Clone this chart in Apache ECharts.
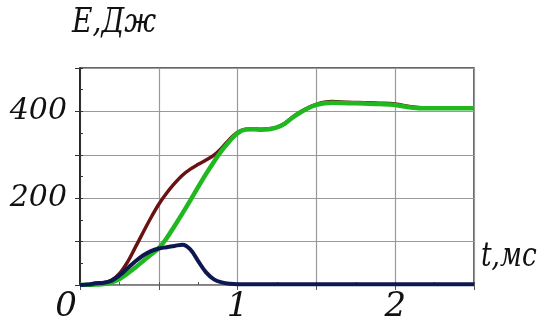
<!DOCTYPE html>
<html>
<head>
<meta charset="utf-8">
<script src="https://cdn.jsdelivr.net/npm/echarts@6/dist/echarts.min.js"></script>
<style>html,body{margin:0;padding:0;background:#fff}#c{width:543px;height:323px}</style>
</head>
<body>
<div id="c"></div>
<script>
const tValues = [0,0.05,0.1,0.15,0.2,0.25,0.3,0.35,0.4,0.45,0.5,0.55,0.6,0.65,0.7,0.75,0.8,0.85,0.9,0.95,1.0,1.05,1.1,1.15,1.2,1.25,1.3,1.35,1.4,1.45,1.5,1.55,1.6,1.7,1.8,1.9,2.0,2.1,2.2,2.3,2.4,2.5];
const totalEnergy = [0,1,4,5,11,26,52,86,121,155,186,212,234,253,267,278,288,299,316,336,352,359,360,359,360,364,373,387,399,409,416,421,423,421,420,419,417,411,408,407,407,407];
const greenEnergy = [0,0,1,2,6,14,26,40,55,70,85,108,136,165,195,226,256,284,310,332,350,358,359,358,359,363,372,386,398,408,415,419,420,419,418,417,415,409,407,407,407,407];
const blueEnergy = [0,1,4,5,10,22,38,54,68,78,84,87,90,93,82,55,29,13,6,3,2,2,2,2,2,2,2,2,2,2,2,2,2,2,2,2,2,2,2,2,2,2];
const xTickLabels = ['0','1','2'];
const yTickLabels = ['200','400'];
const yAxisTitle = 'E,Дж';
const xAxisTitle = 't,мс';

const pairs = arr => tValues.map((t,i)=>[t,arr[i]]);
const serif = 'DejaVu Serif';

const chart = echarts.init(document.getElementById('c'), null, {renderer:'canvas'});
chart.setOption({
  animation:false,
  backgroundColor:'#fff',
  grid:{left:80, right:69, top:68, bottom:38, outerBoundsMode:'none', containLabel:false, show:true, borderColor:'#333', borderWidth:1.5, backgroundColor:'transparent'},
  xAxis:[{
    type:'value', min:0, max:2.5, interval:0.5,
    axisLine:{show:true, onZero:false, lineStyle:{color:'#888', width:1.5}},
    axisTick:{show:true, inside:false, length:5, lineStyle:{color:'#555'}},
    splitLine:{show:true, lineStyle:{color:'#999', width:1.2}},
    axisLabel:{
      margin:5, fontFamily:serif, fontStyle:'italic', fontSize:34, color:'#111',
      formatter:v=>{const s=String(v); return xTickLabels.includes(s)?(s==='0'?'{z|0}':s):'';},
      rich:{z:{fontFamily:serif, fontStyle:'italic', fontSize:34, color:'#111', padding:[0,28,0,0]}}
    }
  },{
    type:'value', min:0, max:2.5, interval:0.25, position:'bottom',
    axisLine:{show:false}, axisTick:{show:true, inside:true, length:3, lineStyle:{color:'#555'}},
    splitLine:{show:false}, axisLabel:{show:false}
  }],
  yAxis:[{
    type:'value', min:0, max:500, interval:100,
    axisLine:{show:true, onZero:false, lineStyle:{color:'#111', width:1.5}},
    axisTick:{show:true, inside:false, length:5, lineStyle:{color:'#333'}},
    splitLine:{show:true, lineStyle:{color:'#999', width:1.2}},
    axisLabel:{
      margin:13, fontFamily:serif, fontStyle:'italic', fontSize:30, color:'#111',
      formatter:v=>yTickLabels.includes(String(v))?String(v):''
    }
  },{
    type:'value', min:0, max:500, interval:50, position:'left',
    axisLine:{show:false}, axisTick:{show:true, inside:true, length:3, lineStyle:{color:'#333'}},
    splitLine:{show:false}, axisLabel:{show:false}
  }],
  graphic:[
    {type:'text', left:72, top:7, scaleX:0.85, style:{text:yAxisTitle, fontFamily:serif, fontStyle:'italic', fontSize:33, fill:'#111'}},
    {type:'text', left:481, top:241, scaleX:0.8, style:{text:xAxisTitle, fontFamily:serif, fontStyle:'italic', fontSize:33, fill:'#111'}}
  ],
  series:[
    {type:'line', xAxisIndex:0, yAxisIndex:0, data:pairs(totalEnergy), smooth:0.35, showSymbol:false, lineStyle:{color:'#6a1212', width:3.5}, z:2},
    {type:'line', xAxisIndex:0, yAxisIndex:0, data:pairs(greenEnergy), smooth:0.35, showSymbol:false, lineStyle:{color:'#1fb81f', width:4.5}, z:3},
    {type:'line', xAxisIndex:0, yAxisIndex:0, data:pairs(blueEnergy), smooth:0.35, showSymbol:false, lineStyle:{color:'#0e1850', width:4}, z:4}
  ]
});
</script>
</body>
</html>
